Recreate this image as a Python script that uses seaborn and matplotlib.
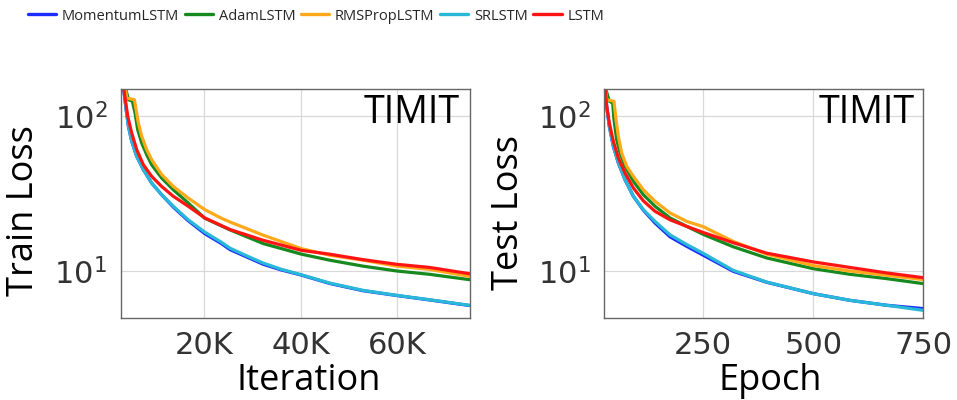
import numpy as np
import pandas as pd
import matplotlib
matplotlib.use("Agg")
import matplotlib.pyplot as plt
import seaborn as sns
from matplotlib.ticker import FixedLocator, NullFormatter

# ---------------- data ----------------
series = ["MomentumLSTM", "AdamLSTM", "RMSPropLSTM", "SRLSTM", "LSTM"]
colors = ["#1a2cff", "#168a1e", "#ffa81a", "#29b8d8", "#ff1414"]

# Train loss vs iteration
tr_x_sr = [3299, 3780, 4330, 5017, 6048, 7423, 9141, 11203, 13608, 16701, 20138, 23574, 25361, 29000, 32233, 36000, 40138, 45980, 52853, 59864, 66598, 74847]
tr_y_sr = [156, 116, 86.2, 69, 55.2, 45.3, 37.1, 31.2, 26.3, 21.5, 17.9, 15.4, 14.1, 12.5, 11.3, 10.3, 9.5, 8.4, 7.54, 7.0, 6.56, 6.04]
tr_x_mom = [3299, 3780, 4330, 5017, 6048, 7423, 9141, 11203, 13608, 16701, 20138, 23574, 25361, 29000, 32233, 36000, 40138, 45980, 52853, 59864, 66598, 74847]
tr_y_mom = [156, 116, 86.2, 69, 55.2, 45.3, 37.1, 31.2, 26.0, 21.2, 17.5, 15.1, 13.8, 12.3, 11.1, 10.2, 9.45, 8.35, 7.5, 6.98, 6.54, 6.02]
tr_x_lstm = [3299, 4192, 5017, 6048, 7423, 9141, 11203, 13608, 16701, 20138, 25361, 32233, 40138, 45980, 52853, 59864, 66598, 74847]
tr_y_lstm = [156, 100, 78, 61, 48.7, 41, 35.3, 30.5, 26.3, 22.1, 18.6, 15.85, 13.65, 12.9, 11.9, 11.1, 10.6, 9.66]
tr_x_rms = [3643, 3986, 5567, 6048, 6392, 7079, 8110, 9141, 11203, 13608, 16701, 20138, 23574, 25361, 32233, 40138, 45980, 52853, 59864, 66598, 74847]
tr_y_rms = [156, 131, 128, 105, 90.6, 74.3, 61, 52.5, 42.1, 35.3, 29.7, 25.0, 22.0, 20.8, 17.1, 14.0, 12.7, 11.8, 10.8, 10.3, 9.29]
tr_x_adam = [3650, 4330, 5155, 5705, 6254, 7079, 8110, 9141, 11203, 13608, 16701, 20138, 25361, 32233, 40138, 45980, 52853, 59864, 66598, 74847]
tr_y_adam = [156, 128, 125, 105, 82, 67.3, 56.6, 48.7, 40, 33.6, 27.6, 22.0, 18.5, 15.1, 12.9, 11.8, 10.8, 10.05, 9.57, 8.84]

# Test loss vs epoch
te_x_sr = [26.5, 30.4, 36.4, 45.5, 56.9, 72, 91, 113.7, 140.2, 174.3, 212.2, 250, 318, 394, 500, 583, 667, 750]
te_y_sr = [156, 116, 86.2, 64, 50, 39, 30.5, 25.0, 21.0, 17.2, 14.9, 13.05, 10.15, 8.53, 7.18, 6.5, 6.04, 5.6]
te_x_mom = [26.5, 30.4, 36.4, 45.5, 56.9, 72, 91, 113.7, 140.2, 174.3, 212.2, 250, 318, 394, 500, 583, 667, 750]
te_y_mom = [156, 116, 86.2, 64, 50, 39, 30.5, 24.8, 20.5, 16.7, 14.5, 12.7, 10.0, 8.5, 7.18, 6.5, 6.04, 5.75]
te_x_lstm = [26.5, 30.4, 36.4, 45.5, 56.9, 72, 91, 113.7, 140.2, 174.3, 212.2, 250, 318, 394, 500, 583, 667, 750]
te_y_lstm = [156, 116, 90.6, 69, 53.8, 43.1, 34.5, 28.5, 24.4, 21.5, 19.5, 17.8, 15.3, 13.1, 11.5, 10.6, 9.76, 9.1]
te_x_rms = [26.5, 30.4, 47, 51.6, 56.9, 64.5, 75.8, 91, 113.7, 140.2, 174.3, 212.2, 250, 318, 394, 500, 583, 667, 750]
te_y_rms = [156, 128, 125, 95.2, 74.3, 57.9, 47.6, 41, 33.6, 28.3, 23.8, 21.0, 19.4, 15.6, 12.9, 10.9, 10.05, 9.43, 8.84]
te_x_adam = [26.5, 36.4, 44, 47, 53.1, 60.7, 72, 91, 113.7, 140.2, 174.3, 212.2, 250, 318, 394, 500, 583, 667, 750]
te_y_adam = [156, 125, 121.9, 95.2, 70.7, 57.9, 47.6, 38.1, 31.2, 26.3, 22.1, 19.5, 17.3, 14.4, 12.2, 10.4, 9.57, 8.97, 8.33]

train_x_ticks = [20000, 40000, 60000]
train_x_labels = ["20K", "40K", "60K"]
test_x_ticks = [250, 500, 750]
test_x_labels = ["250", "500", "750"]
y_ticks = [10, 100]
y_labels = [r"$10^1$", r"$10^2$"]


def long_df(pairs):
    frames = []
    for name, (xs, ys) in pairs.items():
        frames.append(pd.DataFrame({"x": xs, "y": ys, "model": name}))
    return pd.concat(frames, ignore_index=True)


train_df = long_df({
    "MomentumLSTM": (tr_x_mom, tr_y_mom),
    "AdamLSTM": (tr_x_adam, tr_y_adam),
    "RMSPropLSTM": (tr_x_rms, tr_y_rms),
    "SRLSTM": (tr_x_sr, tr_y_sr),
    "LSTM": (tr_x_lstm, tr_y_lstm),
})
test_df = long_df({
    "MomentumLSTM": (te_x_mom, te_y_mom),
    "AdamLSTM": (te_x_adam, te_y_adam),
    "RMSPropLSTM": (te_x_rms, te_y_rms),
    "SRLSTM": (te_x_sr, te_y_sr),
    "LSTM": (te_x_lstm, te_y_lstm),
})

# ---------------- style ----------------
sns.set_theme(style="whitegrid")
plt.rcParams.update({
    "axes.edgecolor": "#666666",
    "axes.linewidth": 1.0,
    "grid.color": "#d9d9d9",
    "grid.linewidth": 0.9,
    "xtick.color": "#333333",
    "ytick.color": "#333333",
    "font.family": ["DejaVu Sans"],
})

palette = dict(zip(series, colors))

fig = plt.figure(figsize=(9.57, 4.0), dpi=100)
ax1 = fig.add_axes([121 / 957, 1 - 318 / 400, 349 / 957, 229 / 400])
ax2 = fig.add_axes([604.3 / 957, 1 - 318 / 400, 319 / 957, 229 / 400])

label_font = dict(family=["Open Sans", "DejaVu Sans"], size=26, color="black")


def setup(ax, df, xlim, xticks, xlabels, xlabel, ylabel, xl_pos, yl_pos):
    sns.lineplot(data=df, x="x", y="y", hue="model", hue_order=series,
                 palette=palette, linewidth=2.3, ax=ax, sort=False,
                 estimator=None, legend=True)
    ax.set_yscale("log")
    ax.set_xlim(*xlim)
    ax.set_ylim(5, 150)
    ax.yaxis.set_major_locator(FixedLocator(y_ticks))
    ax.set_yticklabels(y_labels)
    ax.yaxis.set_minor_formatter(NullFormatter())
    ax.set_xticks(xticks)
    ax.set_xticklabels(xlabels)
    ax.tick_params(axis="both", which="major", labelsize=22, length=0)
    ax.tick_params(axis="x", pad=9)
    ax.tick_params(axis="y", pad=10)
    ax.tick_params(which="minor", length=0)
    ax.grid(True, which="major")
    ax.grid(False, which="minor")
    ax.set_xlabel(xlabel, fontdict=label_font)
    ax.set_ylabel(ylabel, fontdict=label_font)
    ax.xaxis.set_label_coords(*xl_pos)
    ax.xaxis.label.set_verticalalignment("baseline")
    ax.yaxis.set_label_coords(*yl_pos)
    ax.yaxis.label.set_verticalalignment("center")
    ax.text(0.972, 0.85, "TIMIT", transform=ax.transAxes, ha="right",
            va="baseline", fontsize=27, family=["Open Sans", "DejaVu Sans"],
            color="black")
    for s in ax.spines.values():
        s.set_visible(True)
        s.set_color("#666666")


setup(ax1, train_df, (2800, 75000), train_x_ticks, train_x_labels,
      "Iteration", "Train Loss", (0.539, -0.315), (-0.278, 0.469))
setup(ax2, test_df, (25, 750), test_x_ticks, test_x_labels,
      "Epoch", "Test Loss", (0.521, -0.315), (-0.299, 0.461))

handles, labels = ax1.get_legend_handles_labels()
ax1.get_legend().remove()
ax2.get_legend().remove()
leg = fig.legend(handles, labels, loc="center left",
                 bbox_to_anchor=(28 / 957, 1 - 16 / 400), ncol=5,
                 frameon=False, borderpad=0, borderaxespad=0,
                 handlelength=1.95, handletextpad=0.38, columnspacing=0.38,
                 prop=dict(family=["Open Sans", "DejaVu Sans"], size=10.5))
for line in leg.get_lines():
    line.set_linewidth(2.4)

fig.savefig("out.png", dpi=100)
